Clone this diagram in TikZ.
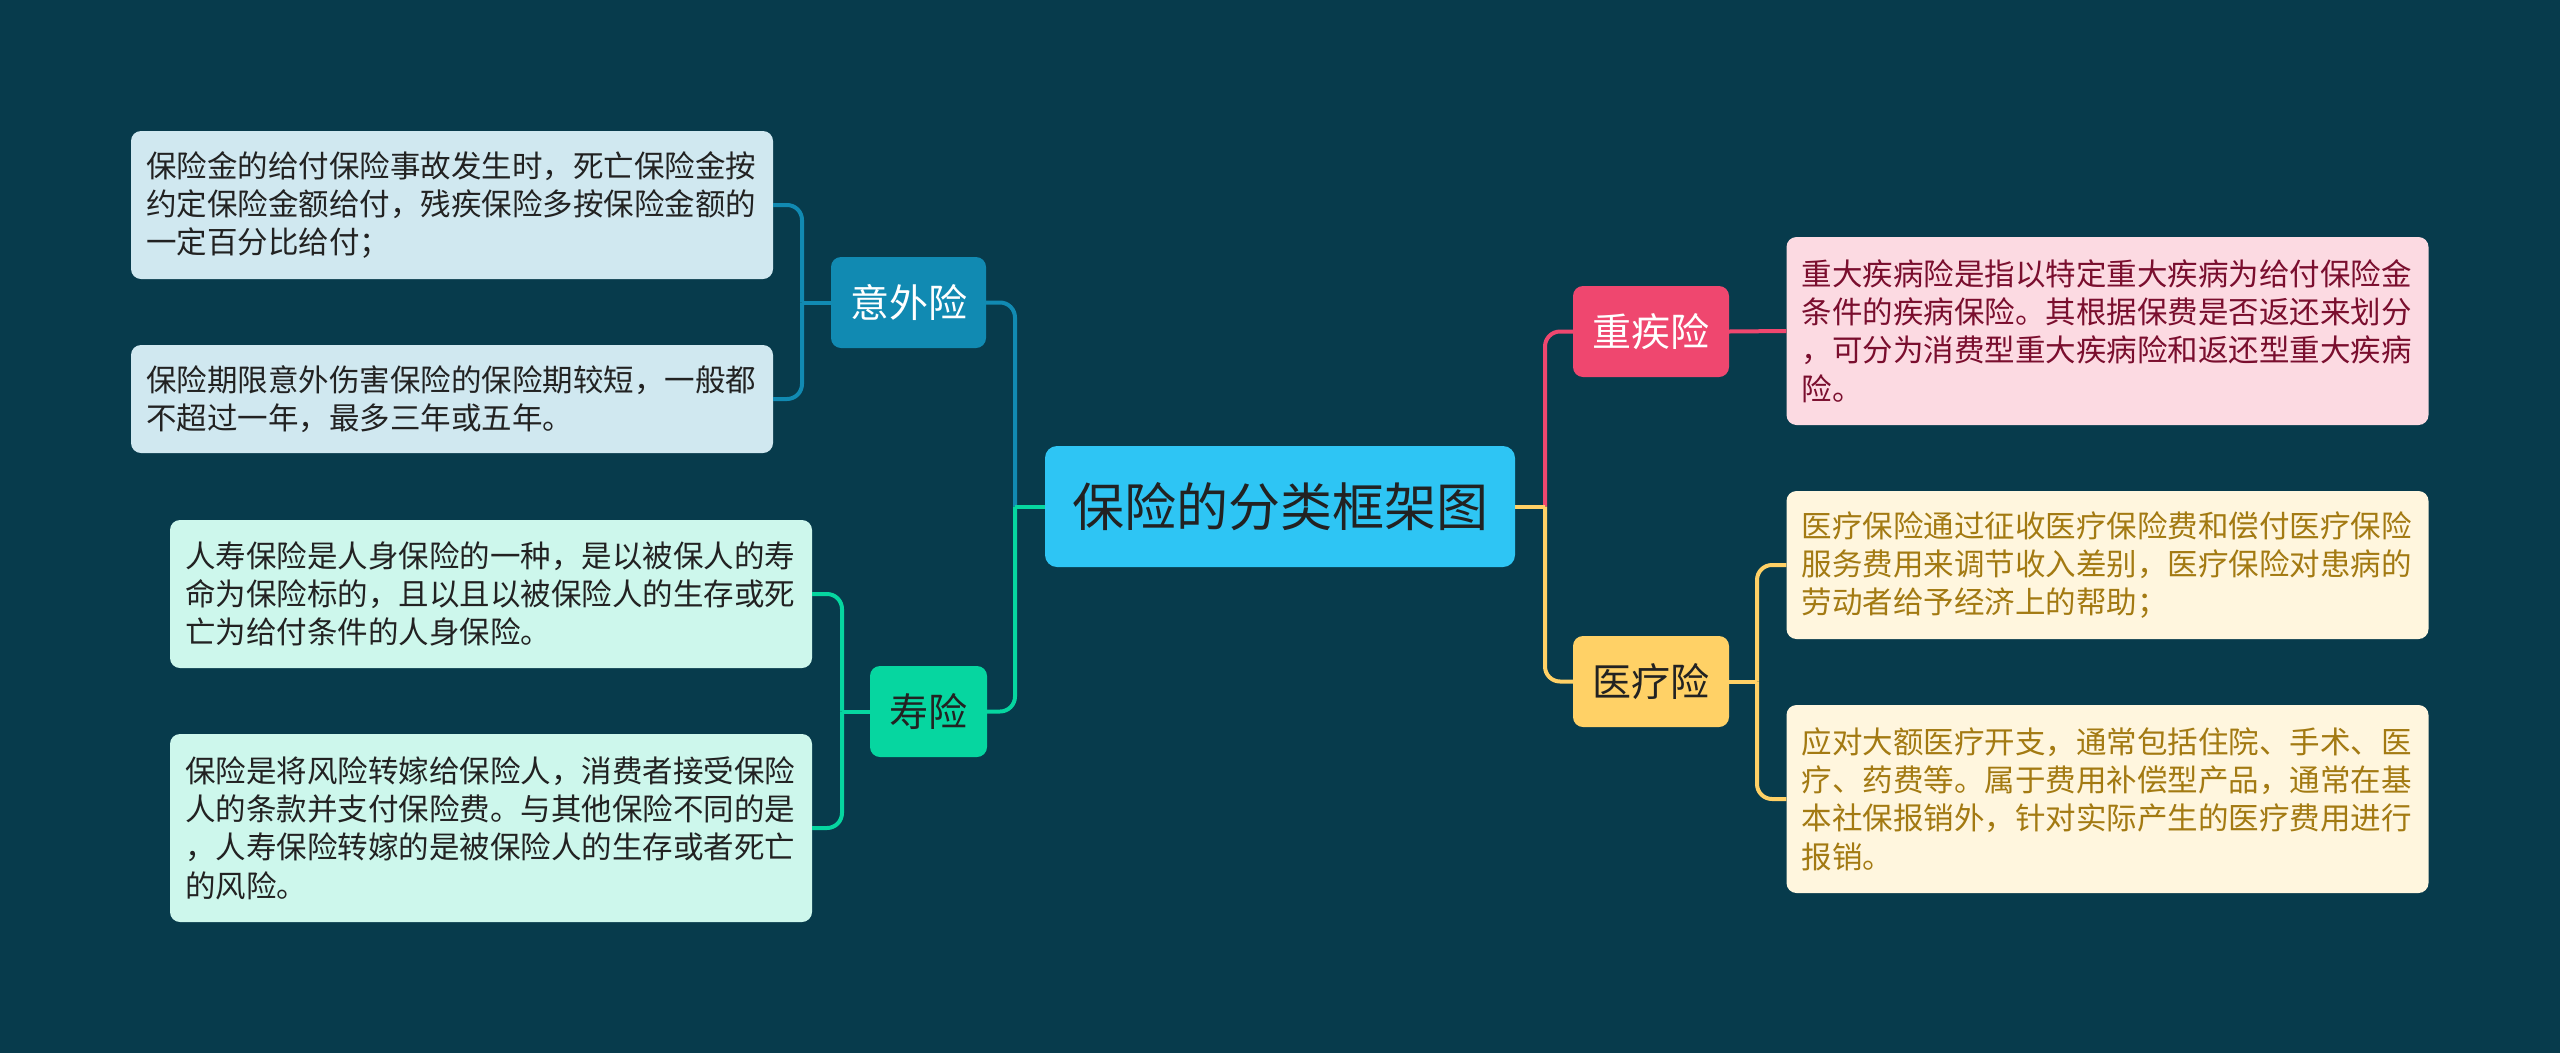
\documentclass[tikz,border=0pt]{standalone}
\usepackage{fontspec}
\setmainfont{Noto Sans CJK SC}
\definecolor{bg}{HTML}{073B4C}
\definecolor{cen}{HTML}{2EC5F4}
\definecolor{cblue}{HTML}{118AB2}
\definecolor{cgreen}{HTML}{06D6A0}
\definecolor{cpink}{HTML}{EF476F}
\definecolor{cyellow}{HTML}{FFD166}
\definecolor{lblue}{HTML}{D0E8F0}
\definecolor{lgreen}{HTML}{CDF7EC}
\definecolor{lpink}{HTML}{FCDAE2}
\definecolor{lyellow}{HTML}{FFF6DE}
\definecolor{tpink}{HTML}{7A0E2E}
\definecolor{tyellow}{HTML}{A37A12}
\definecolor{tdark}{HTML}{222222}
\tikzset{
  leafbox/.style={rectangle, rounded corners=10pt, align=left, text width=612pt,
    inner xsep=15pt, inner ysep=0pt, font=\fontsize{30.5}{38.3}\selectfont},
  branchbox/.style={rectangle, rounded corners=10pt, minimum height=91pt, inner sep=0pt,
    align=center, font=\fontsize{39}{45}\selectfont},
  conn/.style={line width=4pt},
  elbow/.style={line width=4pt, rounded corners=15pt},
}
\begin{document}
\begin{tikzpicture}[x=1pt,y=-1pt]
\fill[bg] (0,0) rectangle (2560,1053);
\useasboundingbox (0,0) rectangle (2560,1053);

% center
\node[rectangle, rounded corners=12pt, fill=cen, text=tdark, minimum width=470pt, minimum height=121pt,
  inner sep=0pt, font=\fontsize{52}{60}\selectfont] (root) at (1280,506.5) {保险的分类框架图};

% branches
\node[branchbox, fill=cblue, text=white, minimum width=155pt] (yiwai) at (908.5,302.5) {意外险};
\node[branchbox, fill=cgreen, text=tdark, minimum width=117pt] (shou) at (928.5,711.5) {寿险};
\node[branchbox, fill=cpink, text=white, minimum width=156pt] (zhongji) at (1651,331.5) {重疾险};
\node[branchbox, fill=cyellow, text=tdark, minimum width=156pt] (yiliao) at (1651,681.5) {医疗险};

% leaves
\node[leafbox, fill=lblue, text=tdark, minimum height=148pt] (a1) at (452,205)
  {保险金的给付保险事故发生时，死亡保险金按\\约定保险金额给付，残疾保险多按保险金额的\\一定百分比给付；};
\node[leafbox, fill=lblue, text=tdark, minimum height=108pt] (a2) at (452,399)
  {保险期限意外伤害保险的保险期较短，一般都\\不超过一年，最多三年或五年。};
\node[leafbox, fill=lgreen, text=tdark, minimum height=148pt] (b1) at (491,594)
  {人寿保险是人身保险的一种，是以被保人的寿\\命为保险标的，且以且以被保险人的生存或死\\亡为给付条件的人身保险。};
\node[leafbox, fill=lgreen, text=tdark, minimum height=188pt] (b2) at (491,828)
  {保险是将风险转嫁给保险人，消费者接受保险\\人的条款并支付保险费。与其他保险不同的是\\，人寿保险转嫁的是被保险人的生存或者死亡\\的风险。};
\node[leafbox, fill=lpink, text=tpink, minimum height=188pt] (c1) at (2107.5,331)
  {重大疾病险是指以特定重大疾病为给付保险金\\条件的疾病保险。其根据保费是否返还来划分\\，可分为消费型重大疾病险和返还型重大疾病\\险。};
\node[leafbox, fill=lyellow, text=tyellow, minimum height=148pt] (d1) at (2107.5,565)
  {医疗保险通过征收医疗保险费和偿付医疗保险\\服务费用来调节收入差别，医疗保险对患病的\\劳动者给予经济上的帮助；};
\node[leafbox, fill=lyellow, text=tyellow, minimum height=188pt] (d2) at (2107.5,799)
  {应对大额医疗开支，通常包括住院、手术、医\\疗、药费等。属于费用补偿型产品，通常在基\\本社保报销外，针对实际产生的医疗费用进行\\报销。};

% junctions
\coordinate (jL) at (1015,506.5);
\coordinate (jR) at (1545,506.5);
\coordinate (jA) at (802,302.5);
\coordinate (jB) at (842,711.5);
\coordinate (jD) at (1757,681.5);

% connectors
\draw[elbow, cblue] (jL) |- (yiwai.east);
\draw[elbow, cgreen] (jL) |- (shou.east);
\draw[conn, cgreen] (root.west) -- (jL);
\draw[elbow, cpink] (jR) |- (zhongji.west);
\draw[elbow, cyellow] (jR) |- (yiliao.west);
\draw[conn, cyellow] (root.east) -- (jR);

\draw[conn, cblue] (yiwai.west) -- (jA);
\draw[elbow, cblue] (jA) |- (a1.east);
\draw[elbow, cblue] (jA) |- (a2.east);

\draw[conn, cgreen] (shou.west) -- (jB);
\draw[elbow, cgreen] (jB) |- (b1.east);
\draw[elbow, cgreen] (jB) |- (b2.east);

\draw[conn, cpink] (zhongji.east) -- (c1.west);

\draw[conn, cyellow] (yiliao.east) -- (jD);
\draw[elbow, cyellow] (jD) |- (d1.west);
\draw[elbow, cyellow] (jD) |- (d2.west);
\end{tikzpicture}
\end{document}
